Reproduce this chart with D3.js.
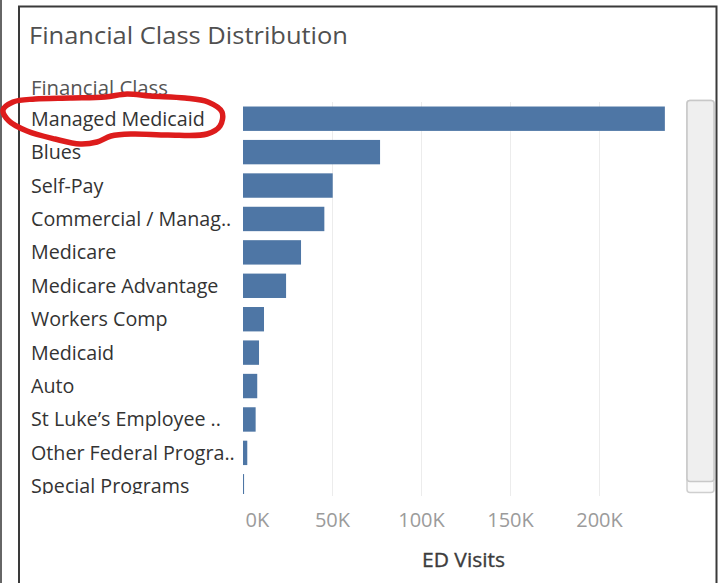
<!DOCTYPE html>
<html>
<head>
<meta charset="utf-8">
<script src="https://cdn.jsdelivr.net/npm/d3@7"></script>
<style>
  html, body { margin: 0; padding: 0; background: #fff; }
  svg { display: block; }
  text { font-family: "Open Sans", "Noto Sans", sans-serif; }
</style>
</head>
<body>
<svg id="chart" width="726" height="583"></svg>
<script>
// Financial class names, in display order (truncated the way the worksheet shows them)
const categories = [
  "Managed Medicaid",
  "Blues",
  "Self-Pay",
  "Commercial / Manag..",
  "Medicare",
  "Medicare Advantage",
  "Workers Comp",
  "Medicaid",
  "Auto",
  "St Luke\u2019s Employee ..",
  "Other Federal Progra..",
  "Special Programs"
];

// ED visits per financial class
const edVisits = [237000, 77000, 50400, 45700, 32600, 24200, 11800, 9000, 8000, 7100, 2400, 600];

// Axis ticks and their labels
const tickValues = [0, 50000, 100000, 150000, 200000];
const tickLabels = ["0K", "50K", "100K", "150K", "200K"];

const title = "Financial Class Distribution";
const rowHeader = "Financial Class";
const axisTitle = "ED Visits";

const svg = d3.select("#chart");
svg.append("rect").attr("width", 726).attr("height", 583).attr("fill", "#fff");

// Worksheet frame
const frame = svg.append("g").attr("stroke", "#3a3a3a").attr("stroke-width", 2).attr("fill", "none");
frame.append("path").attr("d", "M19,583 V6.5 H716.5 V583");
svg.append("line").attr("x1", 1).attr("x2", 1).attr("y1", 0).attr("y2", 583)
  .attr("stroke", "#666").attr("stroke-width", 2);

// Title and row header
svg.append("text").attr("x", 29).attr("y", 43.5)
  .attr("font-size", 23.5).attr("fill", "#505050")
  .attr("textLength", 319).attr("lengthAdjust", "spacingAndGlyphs")
  .text(title);
svg.append("text").attr("x", 31).attr("y", 95)
  .attr("font-size", 19.5).attr("fill", "#555")
  .attr("textLength", 137).attr("lengthAdjust", "spacingAndGlyphs")
  .text(rowHeader);

// Scales
const x = d3.scaleLinear().domain([0, 200000]).range([243, 599]);
const y = d3.scaleBand().domain(categories).range([102, 503])
  .paddingInner(0.27).paddingOuter(0.135);

// Scrolling pane clip
const defs = svg.append("defs");
defs.append("clipPath").attr("id", "pane")
  .append("rect").attr("x", 20).attr("y", 100).attr("width", 660).attr("height", 394);

// Gridlines
svg.append("g").selectAll("line").data(tickValues.slice(1)).join("line")
  .attr("x1", d => Math.round(x(d)) + 0.5).attr("x2", d => Math.round(x(d)) + 0.5)
  .attr("y1", 102).attr("y2", 496)
  .attr("stroke", "#ececec").attr("stroke-width", 1);

const pane = svg.append("g").attr("clip-path", "url(#pane)");

const rows = categories.map((c, i) => ({ name: c, value: edVisits[i] }));

// Bars
pane.append("g").selectAll("rect").data(rows).join("rect")
  .attr("x", x(0))
  .attr("y", d => y(d.name))
  .attr("width", d => Math.max(1, x(d.value) - x(0)))
  .attr("height", y.bandwidth())
  .attr("fill", "#4e76a5");

// Row labels
pane.append("g").selectAll("text").data(rows).join("text")
  .attr("x", 31)
  .attr("y", d => y(d.name) + y.bandwidth() / 2 + 7)
  .attr("font-size", 19.7)
  .attr("fill", "#333")
  .text(d => d.name);

// X axis
const xAxis = d3.axisBottom(x)
  .tickValues(tickValues)
  .tickFormat((d, i) => tickLabels[i])
  .tickSize(0)
  .tickPadding(0);

const axisG = svg.append("g").attr("transform", "translate(0,500)").call(xAxis);
axisG.select(".domain").remove();
axisG.selectAll("text")
  .attr("font-family", "\"Open Sans\", sans-serif")
  .attr("font-size", 20)
  .attr("fill", "#9b9b9b")
  .attr("dy", 0)
  .attr("y", 27);
// First label sits inside the axis start
axisG.selectAll(".tick").filter(d => d === 0).select("text")
  .attr("text-anchor", "start").attr("x", 2);

svg.append("text").attr("x", 463.5).attr("y", 566.5)
  .attr("text-anchor", "middle").attr("font-size", 20.5)
  .attr("fill", "#3c3c3c").attr("stroke", "#3c3c3c").attr("stroke-width", 0.35)
  .attr("textLength", 83).attr("lengthAdjust", "spacingAndGlyphs")
  .text(axisTitle);

// Scrollbar
svg.append("rect").attr("x", 687).attr("y", 100.5).attr("width", 27).attr("height", 392)
  .attr("rx", 3).attr("fill", "#fafafa").attr("stroke", "#cfcfcf").attr("stroke-width", 1.5);
svg.append("rect").attr("x", 687).attr("y", 100.5).attr("width", 27).attr("height", 381)
  .attr("rx", 3).attr("fill", "#efefef").attr("stroke", "#c8c8c8").attr("stroke-width", 1.5);

// Hand-drawn highlight loop around the top category
const highlightLoop = [
  [3, 110], [13, 102], [35, 99], [70, 98], [105, 97], [127, 94], [150, 96],
  [185, 98], [208, 102], [222, 112], [220, 126], [207, 134], [168, 135],
  [132, 134], [111, 136], [97, 142], [80, 144], [55, 139], [27, 131], [9, 121]
];
svg.append("path")
  .attr("d", d3.line().curve(d3.curveCatmullRomClosed.alpha(0.5))(highlightLoop))
  .attr("fill", "none").attr("stroke", "#dd1c1c").attr("stroke-width", 5.5)
  .attr("stroke-linejoin", "round");
</script>
</body>
</html>
